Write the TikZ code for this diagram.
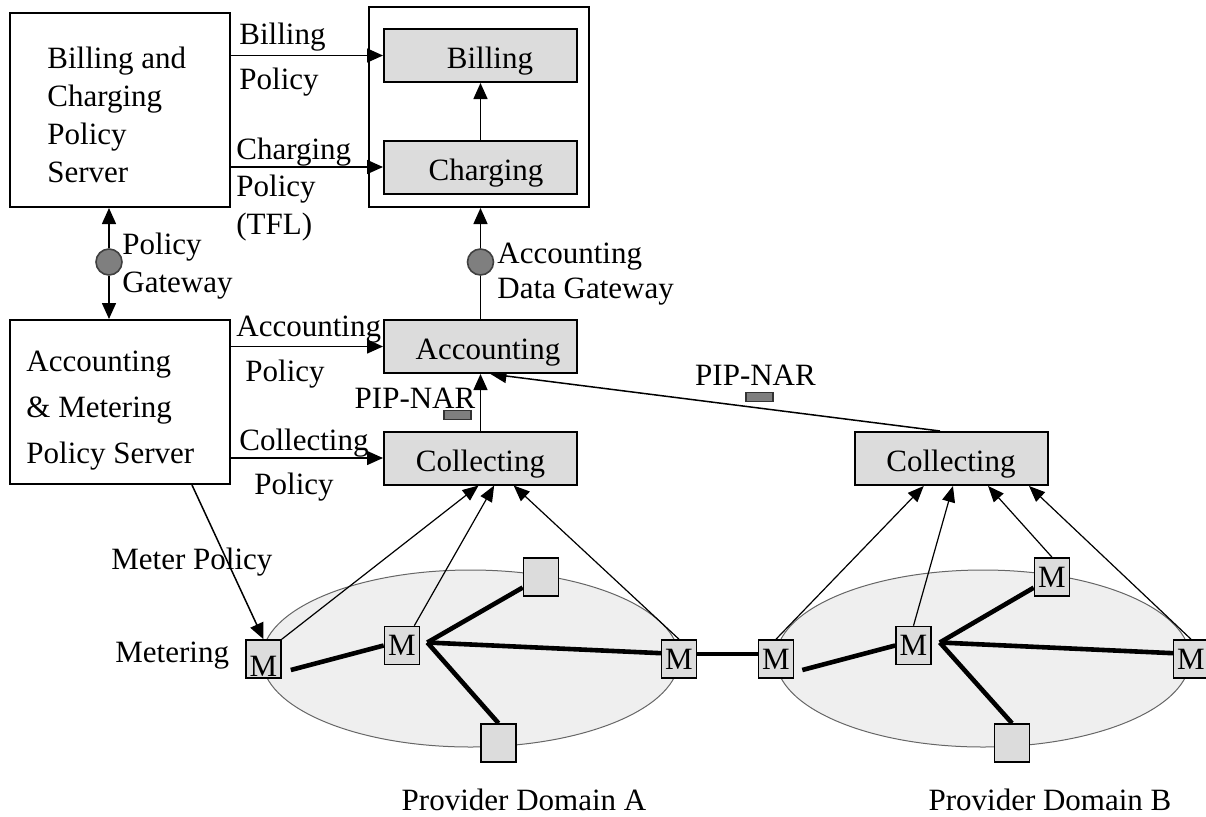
\documentclass[tikz,border=0pt]{standalone}
\usepackage{fontspec}
\setmainfont{Liberation Serif}
\usetikzlibrary{arrows.meta,calc}
\definecolor{boxgray}{HTML}{DCDCDC}
\definecolor{domaingray}{HTML}{EFEFEF}
\definecolor{gatewaygray}{HTML}{7F7F7F}
\pgfdeclarelayer{domains}
\pgfdeclarelayer{links}
\pgfsetlayers{domains,links,main}

\begin{document}
\begin{tikzpicture}[x=0.5pt,y=-0.5pt,
  txt/.style={inner sep=0pt, align=left, font=\fontsize{15.5}{#1}\selectfont},
  txt/.default=19,
  server/.style={draw, line width=1pt, minimum width=110pt, inner sep=0pt},
  stage/.style={draw, line width=1pt, fill=boxgray, minimum width=96.5pt,
    minimum height=26.5pt, inner sep=0pt, font=\fontsize{15.5}{19}\selectfont,
    text height=16pt, text depth=3pt},
  meterbox/.style={draw, line width=0.8pt, fill=boxgray, minimum width=17.5pt,
    minimum height=19pt, inner sep=0pt, font=\fontsize{15.5}{19}\selectfont},
  gateway/.style={circle, draw=black!75, fill=gatewaygray, line width=0.8pt,
    minimum size=13pt, inner sep=0pt},
  pip/.style={draw=black!80, fill=gatewaygray, line width=0.6pt,
    minimum width=13.5pt, minimum height=4.5pt, inner sep=0pt},
  flow/.style={line width=0.75pt, -{Triangle[length=8pt,width=7pt]}},
  report/.style={line width=0.6pt, -{Triangle[length=8pt,width=6.5pt]}},
  net/.style={line width=2.3pt},
  provider/.style={draw=black!60, line width=0.5pt, fill=domaingray}
]
\useasboundingbox (0,0) rectangle (1206,816);

% policy servers
\node[server, minimum height=97pt] (bcps) at (120,110) {};
\node[txt, anchor=west] (bcpstext) at (47,115) {Billing and\\Charging\\Policy\\Server};
\node[server, minimum height=82pt] (amps) at (120,402) {};
\node[txt=23, anchor=west] (ampstext) at (26,411) {Accounting\\\& Metering\\Policy Server};

% billing / charging / accounting chain
\node[server, minimum height=100pt] (bcbox) at (479,107) {};
\node[stage] (billing) at (480.5,55.5) {\hspace{9.5pt}Billing};
\node[stage] (charging) at (480.5,167) {\hspace{5.5pt}Charging};
\node[stage] (accounting) at (480.5,346.5) {\hspace{7.5pt}Accounting};
\node[stage] (collA) at (480.5,458) {Collecting\hspace{6pt}};
\node[stage] (collB) at (951,458.5) {Collecting\hspace{7pt}};

% gateways
\node[gateway] (pgw) at (109,262) {};
\node[gateway] (adgw) at (480.5,262) {};

% domain A meters and routers
\node[meterbox, text height=17pt, text depth=0pt] (m1) at (263.5,659) {M};
\node[meterbox] (m2) at (402,645.5) {M};
\node[meterbox] (sqAt) at (541,577) {};
\node[meterbox] (sqAb) at (498.5,743) {};
\node[meterbox] (m3) at (679,659) {M};

% domain B meters and routers
\node[meterbox] (mb1) at (776,659) {M};
\node[meterbox] (mb2) at (913.5,645.5) {M};
\node[meterbox] (mb3) at (1052,577) {M};
\node[meterbox] (sqBb) at (1012,743) {};
\node[meterbox] (mb4) at (1191,659) {M};

\coordinate (hubA) at ([xshift=3.5pt,yshift=1.5pt]m2.east);
\coordinate (hubB) at ([xshift=4pt,yshift=1.5pt]mb2.east);

% provider domains
\begin{pgfonlayer}{domains}
\draw[provider] (470.5,658.5) ellipse [x radius=104.25pt, y radius=44.25pt];
\draw[provider] (983,658.5) ellipse [x radius=103.5pt, y radius=44.25pt];
\end{pgfonlayer}

\begin{pgfonlayer}{links}
% policy distribution
\draw[flow] (bcps.east |- billing) -- (billing.west);
\draw[flow] (bcps.east |- charging) -- (charging.west);
\draw[flow] (charging) -- (billing);
\draw[flow] (pgw) -- (pgw |- bcps.south);
\draw[flow] (pgw) -- (pgw |- amps.north);
\draw[line width=0.75pt] (accounting.north) -- (adgw);
\draw[flow] (adgw) -- (adgw |- bcbox.south);
\draw[flow] (amps.east |- accounting) -- (accounting.west);
\draw[flow] (amps.east |- collA) -- (collA.west);
\draw[flow] (collA) -- (accounting);
\draw[flow] ([xshift=-5.5pt]collB.north) -- ([xshift=5pt]accounting.south);
\draw[flow] ([xshift=36pt]amps.south) -- (m1.north);

% meter reports to collectors
\draw[report] (m1.north east) -- ($(collA.south west)!0.49!(collA.south east)$);
\draw[report] ([xshift=-3pt]m2.north east) -- ($(collA.south west)!0.57!(collA.south east)$);
\draw[report] (m3.north) -- ($(collA.south west)!0.67!(collA.south east)$);
\draw[report] (mb1.north) -- ($(collB.south west)!0.36!(collB.south east)$);
\draw[report] (mb2.north) -- ($(collB.south west)!0.51!(collB.south east)$);
\draw[report] (mb3.north) -- ($(collB.south west)!0.69!(collB.south east)$);
\draw[report] (mb4.north) -- ($(collB.south west)!0.90!(collB.south east)$);

% network links
\draw[net] ([xshift=4.5pt,yshift=-5.5pt]m1.east) -- (m2.west);
\draw[net] (hubA) -- (sqAt);
\draw[net] (hubA) -- ([yshift=2.5pt]m3.center);
\draw[net] (hubA) -- (sqAb.north);
\draw[net] ([yshift=2.5pt]m3.east) -- ([yshift=2.5pt]mb1.west);
\draw[net] ([xshift=4pt,yshift=-5.5pt]mb1.east) -- (mb2.west);
\draw[net] (hubB) -- (mb3);
\draw[net] (hubB) -- ([yshift=2.5pt]mb4.center);
\draw[net] (hubB) -- (sqBb.north);
\end{pgfonlayer}

% labels
\node[txt=22.5, anchor=west] (bplabel) at (239,59.5) {Billing\\Policy};
\node[txt=18.75, anchor=west] (cplabel) at (236,189.5) {Charging\\Policy\\(TFL)};
\node[txt, anchor=west] (pglabel) at (122,266) {Policy\\Gateway};
\node[txt=17.5, anchor=west] (adglabel) at (497,274.5) {Accounting\\Data Gateway};
\node[txt=22.5, anchor=west] (aplabel) at (236,352.5) {Accounting\\\hspace{4.5pt}Policy};
\node[txt=22, anchor=west] (colplabel) at (239,465) {Collecting\\\hspace{7.5pt}Policy};
\node[txt] (pipA) at (415,398) {PIP-NAR};
\node[pip] (pipAmark) at (457.5,415) {};
\node[txt] (pipB) at (755.5,375) {PIP-NAR};
\node[pip] (pipBmark) at (759.5,397) {};
\node[txt, anchor=west] (mplabel) at (111,562) {Meter Policy};
\node[txt, anchor=west] (mlabel) at (115,656) {Metering};
\node[txt] (domA) at (524,800) {Provider Domain A};
\node[txt] (domB) at (1050,800) {Provider Domain B};
\end{tikzpicture}
\end{document}
